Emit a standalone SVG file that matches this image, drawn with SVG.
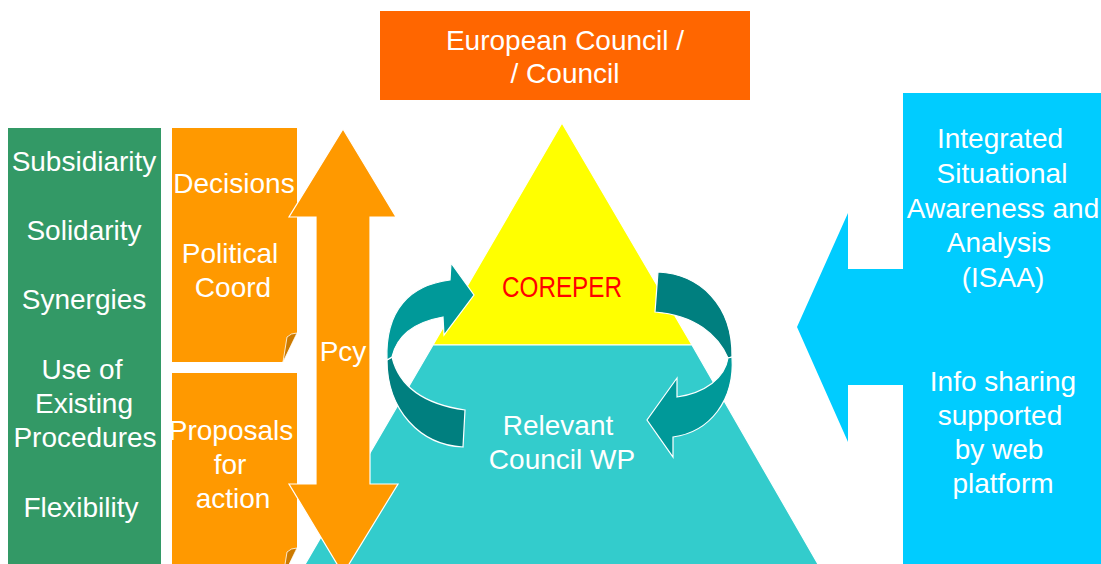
<svg xmlns="http://www.w3.org/2000/svg" width="1101" height="564" viewBox="0 0 1101 564">
<style>
  text { font-family: "Liberation Sans", Arial, sans-serif; font-size: 28px; fill: #FFFFFF; text-anchor: middle; }
  .red { fill: #FF0000; font-size: 30px; }
  .edge { stroke: #FFFFFF; stroke-width: 1.2; }
  .curl { fill: #CC7A00; stroke: #FFFFFF; stroke-width: 0.8; }
  .light { fill: #009999; stroke: #FFFFFF; stroke-width: 1.2; }
  .dark { fill: #007F7F; stroke: #FFFFFF; stroke-width: 1.2; }
</style>
<rect width="1101" height="564" fill="#FFFFFF"/>

<g id="council">
  <rect x="380" y="11" width="370" height="89" fill="#FF6600"/>
  <text x="565" y="50">European Council /</text>
  <text x="565" y="83">/ Council</text>
</g>

<g id="principles">
  <rect x="8" y="128" width="153" height="440" fill="#339966"/>
  <text x="84" y="171">Subsidiarity</text>
  <text x="84" y="240">Solidarity</text>
  <text x="84" y="309">Synergies</text>
  <text x="82" y="379">Use of</text>
  <text x="84" y="413">Existing</text>
  <text x="85" y="447">Procedures</text>
  <text x="81" y="517">Flexibility</text>
</g>

<g id="decisions">
  <path d="M172,128 H297 V333 Q290,345 283,362 H172 Z" fill="#FF9900"/>
  <path class="curl" d="M283,362 L287,337 Q291,333 297,333 Z"/>
  <text x="234" y="193">Decisions</text>
  <text x="230" y="263">Political</text>
  <text x="233" y="297">Coord</text>
</g>

<g id="proposals">
  <path d="M172,373 H297 V548 Q290,560 283,577 H172 Z" fill="#FF9900"/>
  <path class="curl" d="M283,577 L287,552 Q291,548 297,548 Z"/>
  <text x="231" y="440">Proposals</text>
  <text x="230" y="474">for</text>
  <text x="233" y="508">action</text>
</g>

<g id="pyramid">
  <path class="edge" d="M562,123 L692,345 L433,345 Z" fill="#FFFF00"/>
  <path class="edge" d="M433,345 L692,345 L830,585 L293,585 Z" fill="#33CCCC"/>
  <text class="red" x="562" y="297" textLength="120" lengthAdjust="spacingAndGlyphs">COREPER</text>
  <text x="558" y="435">Relevant</text>
  <text x="562" y="469">Council WP</text>
</g>

<g id="pcy">
  <path class="edge" d="M343,129 L396,217 L370,217 L370,484 L398,484 L343,574 L289,484 L316,484 L316,217 L289,217 Z" fill="#FF9900"/>
  <text x="343" y="361">Pcy</text>
</g>

<g id="connectors">
  <path class="dark" d="M387,360 C387,410 420,445 463,447 L465,410 C430,405 400,390 392,357 Z"/>
  <path class="light" d="M387,360 C385,310 410,285 450,280 L451,263 L474,295 L444,335 L443,317 C415,322 397,335 392,357 Z"/>
  <path class="dark" d="M658,272 C700,274 733,305 732,357 L728,358 C718,335 695,315 655,312 Z"/>
  <path class="light" d="M732,357 C735,400 710,432 673,437 L673,457 L647,420 L677,378 L677,397 C705,393 725,378 728,358 Z"/>
</g>

<g id="isaa">
  <path d="M797,327 L848,213 L848,269 L903,269 L903,93 L1101,93 L1101,564 L903,564 L903,385 L848,385 L848,442 Z" fill="#00CCFF"/>
  <text x="1000" y="148">Integrated</text>
  <text x="1002" y="183">Situational</text>
  <text x="1003" y="218">Awareness and</text>
  <text x="999" y="252">Analysis</text>
  <text x="1003" y="287">(ISAA)</text>
  <text x="1003" y="391">Info sharing</text>
  <text x="1000" y="425">supported</text>
  <text x="999" y="459">by web</text>
  <text x="1003" y="493">platform</text>
</g>
</svg>
